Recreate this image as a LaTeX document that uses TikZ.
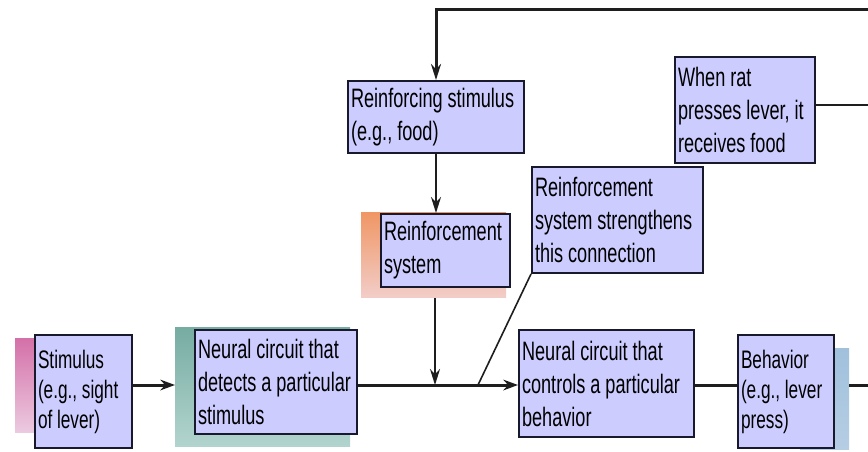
\documentclass[tikz,border=0pt]{standalone}
\usepackage{fontspec}
\setmainfont{Liberation Sans}[FakeStretch=0.68]
\usetikzlibrary{arrows.meta}
\hyphenpenalty=10000
\exhyphenpenalty=10000
\DeclareRobustCommand\boxfont{\fontsize{20}{24.75}\selectfont\fontdimen2\font=3.7pt\relax}
\DeclareRobustCommand\smallboxfont{\fontsize{19}{22.5}\selectfont\fontdimen2\font=3.5pt\relax}

\definecolor{boxfill}{RGB}{204,204,255}
\definecolor{boxline}{RGB}{25,25,45}
\definecolor{linkcol}{RGB}{30,30,30}
\definecolor{pinktop}{RGB}{212,112,168}
\definecolor{pinkbot}{RGB}{236,202,224}
\definecolor{tealtop}{RGB}{118,172,162}
\definecolor{tealbot}{RGB}{178,212,206}
\definecolor{orangetop}{RGB}{240,150,100}
\definecolor{orangebot}{RGB}{242,205,200}
\definecolor{bluetop}{RGB}{160,192,220}
\definecolor{bluebot}{RGB}{182,206,228}

\tikzset{every picture/.style={line width=0.75pt}}
\tikzset{
  box/.style={draw=boxline, line width=1.5pt, fill=boxfill, align=flush left,
    inner xsep=2.25pt, inner ysep=2pt, font=\boxfont},
  smallbox/.style={box, font=\smallboxfont},
  link/.style={draw=linkcol, line width=1.5pt},
  flow/.style={link, line width=2.25pt, -{Stealth[length=11pt,width=8pt]}},
  feed/.style={link, -{Stealth[length=12pt,width=7.5pt]}},
}

\begin{document}
\begin{tikzpicture}[x=0.75pt,y=0.75pt,yscale=-1,xscale=1]
\useasboundingbox (0,0) rectangle (868,451);

%Side panels
\shade [top color=pinktop, bottom color=pinkbot] (15,338) rectangle (36,432);
\shade [top color=tealtop, bottom color=tealbot] (175,327) rectangle (350,446);
\shade [top color=orangetop, bottom color=orangebot] (361,212) rectangle (506,297);
\shade [top color=bluetop, bottom color=bluebot] (800,348) rectangle (849,449);

% Text Node
\node (stim) [smallbox, text width=68.25pt, minimum height=84.75pt] at (83.5,391.5)
  {Stimulus\\(e.g., sight\\of lever)};
% Text Node
\node (detect) [box, text width=117pt, minimum height=78pt] at (276,382)
  {Neural circuit that\\detects a particular\\stimulus};
% Text Node
\node (food) [box, text width=127.5pt, minimum height=54pt] at (436,117)
  {Reinforcing stimulus\\(e.g., food)};
% Text Node
\node (reinf) [box, text width=92.25pt, minimum height=54.75pt] at (445.5,250.5)
  {Reinforcement\\system};
% Text Node
\node (strength) [box, text width=123.75pt, minimum height=79.5pt] at (617.5,220)
  {Reinforcement\\system strengthens\\this connection};
% Text Node
\node (rat) [box, text width=100.5pt, minimum height=79.5pt] at (745,110)
  {When rat\\presses lever, it\\receives food};
% Text Node
\node (control) [box, text width=126.75pt, minimum height=80.25pt] at (606.5,383.5)
  {Neural circuit that\\controls a particular\\behavior};
% Text Node
\node (behav) [smallbox, text width=67.5pt, minimum height=84.75pt] at (786,391.5)
  {Behavior\\(e.g., lever\\press)};

%Line ends
\coordinate (join) at (435,385);
\coordinate (split) at (478,385);
\coordinate (detectside) at (175,385);
\coordinate (behavside) at (849,385);
\coordinate (lineR) at (868,385);
\coordinate (reinfbase) at (435,298);
\coordinate (topR) at (868,9);
\coordinate (ratR) at (868,105);

%Straight Lines
\draw [flow] (stim.east |- join) -- (detectside);
\draw [flow] (detect.east |- join) -- (control.west |- join);
\draw [link, line width=2.25pt] (control.east |- join) -- (behav.west |- join);
\draw [link, line width=2.25pt] (behavside) -- (lineR);
\draw [feed] (reinfbase) -- (join);
\draw [feed] (food.south) -- (food.south |- reinf.north);
\draw [feed, line width=2.25pt] (topR) -- (food.north |- topR) -- (food.north);
\draw [link, line width=1.2pt] (rat.east |- ratR) -- (ratR);
\draw [link, line width=1.2pt] (split) -- (strength.south west);

\end{tikzpicture}
\end{document}
